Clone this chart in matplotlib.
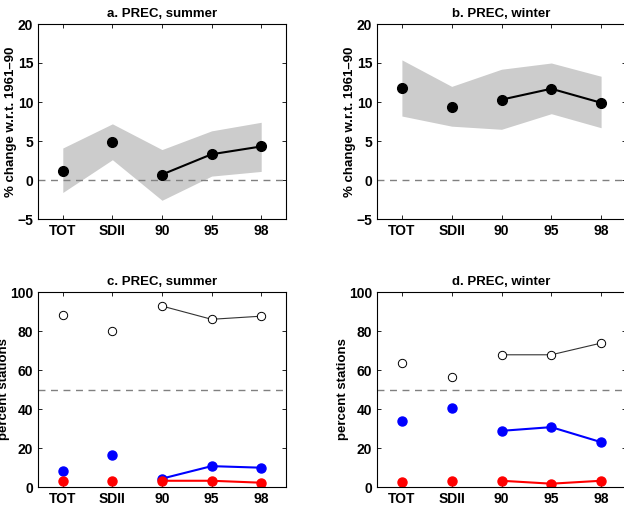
import numpy as np
import matplotlib
matplotlib.use("Agg")
import matplotlib.pyplot as plt

plt.rcParams['font.family'] = ['Liberation Sans', 'DejaVu Sans']
plt.rcParams['font.weight'] = 'bold'

# categories
labels = ['TOT', 'SDII', '90', '95', '98']
x = np.arange(1, 6)

# a. summer, % change
sum_mean = [1.2, 4.9, 0.7, 3.3, 4.3]
sum_upper = [4.1, 7.2, 3.9, 6.3, 7.4]
sum_lower = [-1.6, 2.6, -2.6, 0.5, 1.1]

# b. winter, % change
win_mean = [11.8, 9.4, 10.3, 11.7, 9.9]
win_upper = [15.4, 12.0, 14.2, 15.0, 13.3]
win_lower = [8.2, 6.9, 6.5, 8.5, 6.7]

# c. summer, percent stations
sum_open = [88.4, 80.2, 92.8, 86.0, 87.6]
sum_blue = [8.2, 16.5, 4.3, 10.7, 9.9]
sum_red = [3.2, 3.2, 3.2, 3.2, 2.2]

# d. winter, percent stations
win_open = [63.5, 56.2, 67.8, 67.8, 73.8]
win_blue = [33.9, 40.4, 28.8, 30.7, 23.0]
win_red = [2.4, 3.2, 3.2, 1.7, 3.2]

fig = plt.figure(figsize=(6.24, 5.11), dpi=100)
W, H = 624.0, 511.0

def make_axes(left, top, right, bottom):
    return fig.add_axes([left / W, 1 - bottom / H, (right - left) / W, (bottom - top) / H])

ax_a = make_axes(38, 24, 286, 219)
ax_b = make_axes(377, 24, 626, 219)
ax_c = make_axes(38, 292, 286, 487)
ax_d = make_axes(377, 292, 626, 487)


def style(ax, title, ylabel):
    ax.set_xlim(0.5, 5.5)
    ax.set_xticks(x)
    ax.set_xticklabels(labels)
    ax.set_title(title, fontsize=9.5, fontweight='bold', pad=5)
    ax.set_ylabel(ylabel, fontsize=9.5, fontweight='bold', labelpad=0)
    ax.tick_params(direction='in', top=True, right=True, length=3, width=0.6,
                   labelsize=10, pad=3.5)
    for t in ax.get_xticklabels() + ax.get_yticklabels():
        t.set_fontweight('bold')
    for s in ax.spines.values():
        s.set_linewidth(0.8)


def change_panel(ax, mean, upper, lower, title):
    ax.fill_between(x, lower, upper, color='#cccccc', linewidth=0)
    ax.axhline(0, color='#808080', linestyle=(0, (5, 4)), linewidth=1)
    ax.plot(x[:2], mean[:2], 'o', color='black', markersize=7)
    ax.plot(x[2:], mean[2:], 'o-', color='black', markersize=7, linewidth=1.5)
    ax.set_ylim(-5, 20)
    ax.set_yticks([-5, 0, 5, 10, 15, 20])
    ax.set_yticklabels(['\u22125', '0', '5', '10', '15', '20'])
    style(ax, title, '% change w.r.t. 1961\u201390')


def station_panel(ax, opn, blue, red, title):
    ax.axhline(50, color='#808080', linestyle=(0, (5, 4)), linewidth=1)
    ax.plot(x[:2], opn[:2], 'o', mfc='white', mec='black', mew=0.7, markersize=6)
    ax.plot(x[2:], opn[2:], 'o-', mfc='white', mec='black', mew=0.7,
            color='#333333', linewidth=0.8, markersize=6)
    ax.plot(x[:2], blue[:2], 'o', color='blue', markersize=6.5)
    ax.plot(x[2:], blue[2:], 'o-', color='blue', markersize=6.5, linewidth=1.5)
    ax.plot(x[:2], red[:2], 'o', color='red', markersize=6.5)
    ax.plot(x[2:], red[2:], 'o-', color='red', markersize=6.5, linewidth=1.5)
    ax.set_ylim(0, 100)
    ax.set_yticks([0, 20, 40, 60, 80, 100])
    style(ax, title, 'percent stations')


change_panel(ax_a, sum_mean, sum_upper, sum_lower, 'a. PREC, summer')
change_panel(ax_b, win_mean, win_upper, win_lower, 'b. PREC, winter')
station_panel(ax_c, sum_open, sum_blue, sum_red, 'c. PREC, summer')
station_panel(ax_d, win_open, win_blue, win_red, 'd. PREC, winter')

fig.savefig('out.png', dpi=100)
